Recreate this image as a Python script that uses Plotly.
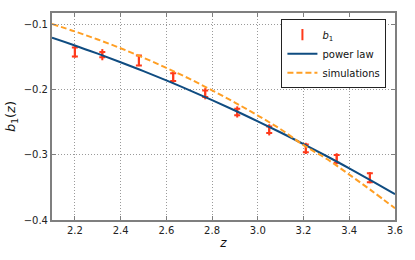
import plotly.graph_objects as go

# measured b1 points
z_pts = [2.2, 2.32, 2.48, 2.63, 2.77, 2.91, 3.05, 3.21, 3.345, 3.49]
b1_pts = [-0.142, -0.146, -0.155, -0.1805, -0.206, -0.234, -0.2615, -0.290, -0.306, -0.335]
b1_err = [0.007, 0.004, 0.0077, 0.006, 0.005, 0.005, 0.005, 0.006, 0.006, 0.007]

# curves
z_curve = [2.1, 2.2, 2.3, 2.4, 2.5, 2.6, 2.7, 2.8, 2.9, 3.0, 3.1, 3.2, 3.3, 3.4, 3.5, 3.6]
power_law = [-0.120, -0.1319, -0.1445, -0.1576, -0.1713, -0.1855, -0.2004, -0.2158,
             -0.2318, -0.2485, -0.2656, -0.2834, -0.3017, -0.3207, -0.3402, -0.3603]
simulations = [-0.099, -0.1103, -0.1227, -0.1361, -0.1507, -0.1663, -0.1829, -0.2008,
               -0.2196, -0.2396, -0.2606, -0.2850, -0.3059, -0.3302, -0.3556, -0.382]

x_ticks = [2.2, 2.4, 2.6, 2.8, 3.0, 3.2, 3.4, 3.6]
y_ticks = [-0.1, -0.2, -0.3, -0.4]

RED = "#ff3a1a"
BLUE = "#0f4c81"
ORANGE = "#ff9f24"
AX = "#7f7f7f"

fig = go.Figure()
fig.add_trace(go.Scatter(
    x=z_pts, y=b1_pts, mode="markers", name="<i>b</i><sub>1</sub>",
    marker=dict(symbol="line-ns-open", size=8, color=RED, line=dict(color=RED, width=2)),
    error_y=dict(type="data", array=b1_err, visible=True, color=RED, thickness=2, width=3),
))
fig.add_trace(go.Scatter(
    x=z_curve, y=power_law, mode="lines", name="power law",
    line=dict(color=BLUE, width=2, shape="spline"),
))
fig.add_trace(go.Scatter(
    x=z_curve, y=simulations, mode="lines", name="simulations",
    line=dict(color=ORANGE, width=2, dash="6px,3px", shape="spline"),
))

axis_common = dict(
    showline=True, mirror="ticks", linecolor=AX, linewidth=2,
    ticks="inside", ticklen=4, tickcolor=AX, tickwidth=1,
    showgrid=True, gridcolor="#9a9a9a", griddash="1px,2px", gridwidth=1,
    zeroline=False, tickfont=dict(size=10, color="#222222"), automargin=False,
)

fig.update_layout(
    width=415, height=260,
    margin=dict(l=52, r=20, t=13, b=40),
    paper_bgcolor="white", plot_bgcolor="white",
    font=dict(family="DejaVu Sans", size=10, color="#111111"),
    xaxis=dict(range=[2.1, 3.6], tickvals=x_ticks, tickformat=".1f",
               title=dict(text="<i>z</i>", font=dict(size=12), standoff=2), **axis_common),
    yaxis=dict(range=[-0.4, -0.082], tickvals=y_ticks, tickformat=".1f",
               title=dict(text="<i>b</i><sub>1</sub>(<i>z</i>)", font=dict(size=13), standoff=5),
               **axis_common),
    showlegend=True,
    legend=dict(x=0.975, y=0.97, xanchor="right", yanchor="top",
                bgcolor="white", bordercolor="#222222", borderwidth=1,
                font=dict(size=10), tracegroupgap=0, itemwidth=30),
)

fig.write_html("out.html", config={"displayModeBar": False},
               post_script="document.body.style.margin='0';")
